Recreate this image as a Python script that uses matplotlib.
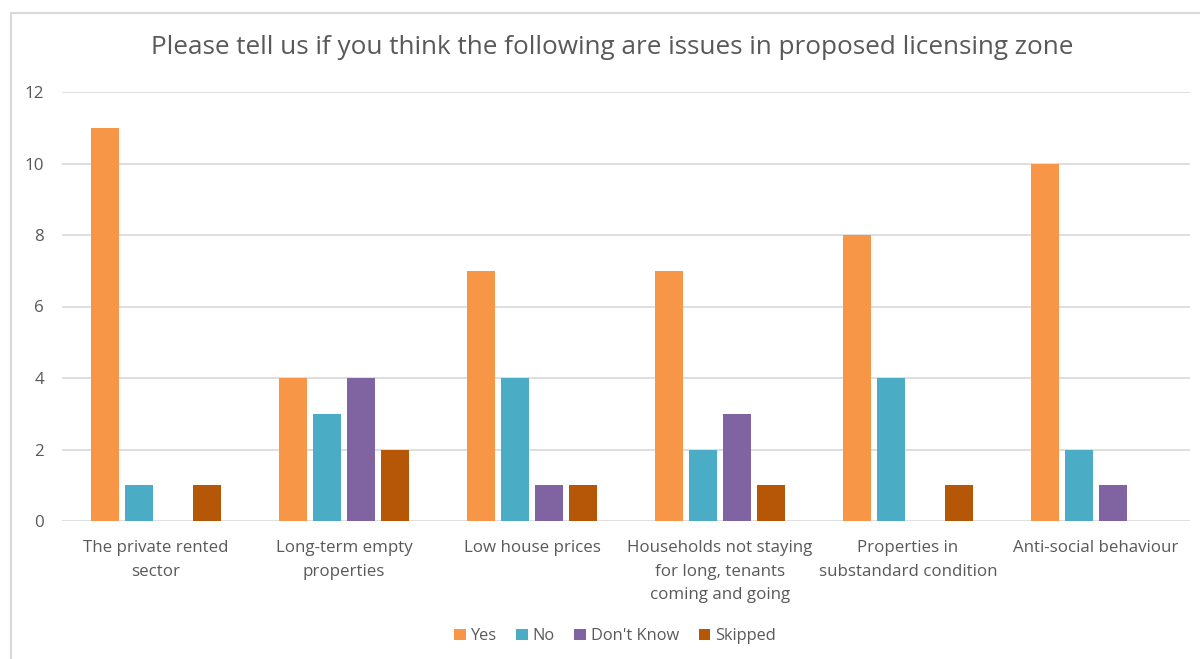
import numpy as np
import matplotlib.pyplot as plt
from matplotlib.patches import Rectangle

plt.rcParams['font.family'] = ['Open Sans', 'DejaVu Sans']

categories = [
    "The private rented\nsector",
    "Long-term empty\nproperties",
    "Low house prices",
    "Households not staying\nfor long, tenants\ncoming and going",
    "Properties in\nsubstandard condition",
    "Anti-social behaviour",
]
series_names = ["Yes", "No", "Don't Know", "Skipped"]
yes = [11, 4, 7, 7, 8, 10]
no = [1, 3, 4, 2, 4, 2]
dont_know = [0, 4, 1, 3, 0, 1]
skipped = [1, 2, 1, 1, 1, 0]
colors = ["#F79646", "#4BACC6", "#8064A2", "#B65708"]

W, H = 1200, 659
fig = plt.figure(figsize=(W / 100, H / 100), dpi=100)
fig.patch.set_facecolor("white")

# chart frame
fig.patches.append(Rectangle((11 / W, -0.01), 1.0, (H - 13) / H + 0.01,
                             transform=fig.transFigure, fill=False,
                             edgecolor="#D9D9D9", linewidth=1.5))

ax = fig.add_axes([62 / W, (H - 521) / H, 1128 / W, (521 - 92) / H])

x = np.arange(len(categories))
step = 34 / 188
bw = 28 / 188
for i, (vals, name) in enumerate(zip([yes, no, dont_know, skipped], series_names)):
    ax.bar(x + (i - 1.5) * step, vals, width=bw, color=colors[i], label=name, zorder=3)

ax.set_xlim(-0.5, len(categories) - 0.5)
ax.set_ylim(0, 12)
ax.set_yticks(range(0, 13, 2))
ax.grid(axis="y", color="#D9D9D9", linewidth=1.2, zorder=0)
for s in ax.spines.values():
    s.set_visible(False)
ax.tick_params(axis="both", length=0, colors="#595959", labelsize=12.2)
ax.tick_params(axis="y", pad=13)
ax.tick_params(axis="x", pad=14)
ax.set_xticks(x)
ax.set_xticklabels(categories, linespacing=1.6)

fig.text(612 / W, (H - 48) / H, "Please tell us if you think the following are issues in proposed licensing zone",
         ha="center", va="center", fontsize=18.8, color="#595959")

ax.legend(loc="center", bbox_to_anchor=(615 / W, (H - 636) / H), bbox_transform=fig.transFigure,
          ncol=4, frameon=False, fontsize=11.8, handlelength=0.7, handleheight=0.7,
          handletextpad=0.3, columnspacing=1.2, labelcolor="#595959")

fig.savefig("out.png", dpi=100)
